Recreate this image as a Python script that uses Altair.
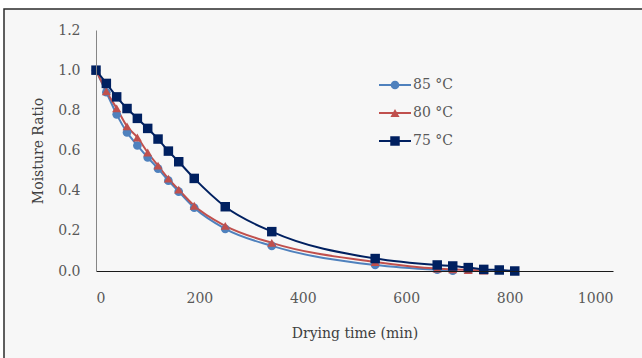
import altair as alt
import pandas as pd

# Series labels, colours and marker shapes
labels = ["85 °C", "80 °C", "75 °C"]
colors = ["#4f81bd", "#c0504d", "#002060"]
shapes = ["circle", "triangle-up", "square"]
marker_sizes = [75, 90, 125]

# Drying time (min) and moisture ratio for each temperature
time_85 = [0, 20, 40, 60, 80, 100, 120, 140, 160, 190, 250, 340, 540, 660, 690]
mr_85 = [1.0, 0.89, 0.78, 0.69, 0.625, 0.565, 0.51, 0.45, 0.395, 0.315, 0.21, 0.125, 0.03, 0.006, 0.002]

time_80 = [0, 20, 40, 60, 80, 100, 120, 140, 160, 190, 250, 340, 540, 660, 690, 720, 750]
mr_80 = [1.0, 0.895, 0.81, 0.72, 0.665, 0.59, 0.525, 0.46, 0.405, 0.325, 0.225, 0.14, 0.045, 0.012, 0.008, 0.005, 0.002]

time_75 = [0, 20, 40, 60, 80, 100, 120, 140, 160, 190, 250, 340, 540, 660, 690, 720, 750, 780, 810]
mr_75 = [1.0, 0.934, 0.867, 0.809, 0.76, 0.71, 0.657, 0.597, 0.544, 0.461, 0.32, 0.196, 0.062, 0.03, 0.025, 0.017, 0.008, 0.005, 0.0]

x_ticks = [0, 200, 400, 600, 800, 1000]
y_ticks = [0.0, 0.2, 0.4, 0.6, 0.8, 1.0, 1.2]

FONT = "DejaVu Serif"
TEXT = "#404040"

rows = []
for lab, ts, ms in zip(labels, [time_85, time_80, time_75], [mr_85, mr_80, mr_75]):
    for t, m in zip(ts, ms):
        rows.append({"series": lab, "time": t, "mr": m})
df = pd.DataFrame(rows)

legend_df = pd.DataFrame({"series": labels, "idx": list(range(len(labels)))})

color = alt.Color("series:N", scale=alt.Scale(domain=labels, range=colors), legend=None)
shape = alt.Shape("series:N", scale=alt.Scale(domain=labels, range=shapes), legend=None)
size = alt.Size("series:N", scale=alt.Scale(domain=labels, range=marker_sizes), legend=None)

x = alt.X(
    "time:Q",
    scale=alt.Scale(domain=[0, 1000]),
    axis=alt.Axis(values=x_ticks, format="d", title="Drying time (min)", grid=False, ticks=False,
                  domainColor="#1a1a1a", labelPadding=20, titlePadding=21, zindex=1),
)
y = alt.Y(
    "mr:Q",
    scale=alt.Scale(domain=[0, 1.2]),
    axis=alt.Axis(values=y_ticks, format=".1f", title="Moisture Ratio", grid=False, ticks=False,
                  domainColor="#868686", labelPadding=16, titlePadding=12, zindex=1),
)

# Chart frame behind everything
frame = alt.Chart(pd.DataFrame({"k": [0]})).mark_rect(
    fill="#f7f7f7", stroke="#2b2b2b", strokeWidth=1.5
).encode(x=alt.value(-92), x2=alt.value(560), y=alt.value(-21), y2=alt.value(340))

lines = alt.Chart(df).mark_line(interpolate="monotone", strokeWidth=2).encode(
    x=x, y=y, color=color, order="time:Q"
)
points = alt.Chart(df).mark_point(filled=True, opacity=1).encode(
    x=x, y=y, color=color, shape=shape, size=size
)
main = alt.layer(lines, points)

# Legend drawn as line + marker + label rows
leg = alt.Chart(legend_df).transform_calculate(ly="55 + 28 * datum.idx")
ly = alt.Y("ly:Q", scale=None, axis=None)
leg_rule = leg.mark_rule(strokeWidth=2).encode(x=alt.value(283), x2=alt.value(315), y=ly, color=color)
leg_pts = leg.mark_point(filled=True, opacity=1).encode(x=alt.value(299), y=ly, color=color, shape=shape, size=size)
leg_txt = leg.mark_text(align="left", baseline="middle", font=FONT, fontSize=14, color="#595959").encode(
    x=alt.value(317), y=ly, text="series:N"
)
legend = alt.layer(leg_rule, leg_pts, leg_txt)

chart = alt.layer(frame, main, legend).resolve_scale(y="independent").properties(
    width=517,
    height=241,
    autosize="none",
    padding={"left": 96, "top": 30, "right": 29, "bottom": 87},
    background="white",
).configure_view(stroke=None).configure_axis(
    labelFont=FONT, titleFont=FONT, labelFontSize=14, titleFontSize=14,
    labelColor="#595959", titleColor=TEXT, titleFontWeight="normal",
)

chart.save("out.html", embed_options={"renderer": "svg", "actions": False})
